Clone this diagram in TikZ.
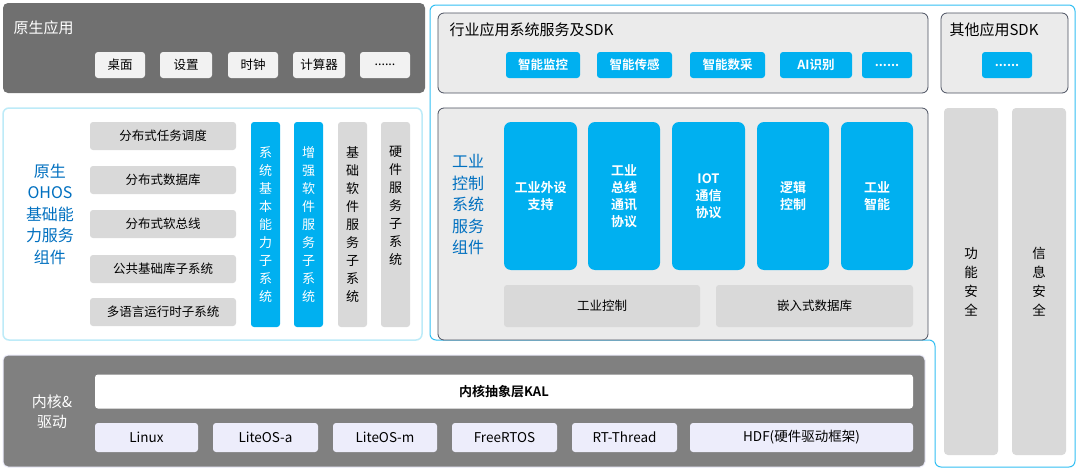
\documentclass[tikz,border=0pt]{standalone}
\usepackage{fontspec}
\setmainfont{Noto Sans CJK SC}
\newfontfamily\cjkb{Noto Sans CJK SC Bold}
\definecolor{cblue}{HTML}{00B0F0}
\definecolor{dgray}{HTML}{707070}
\definecolor{kgray}{HTML}{808080}
\definecolor{lgray}{HTML}{EBEBEB}
\definecolor{mgray}{HTML}{D9D9D9}
\definecolor{txtblue}{HTML}{0070C0}
\definecolor{lav}{HTML}{EDEDFB}
\definecolor{edge}{HTML}{4A5060}
\definecolor{lcyan}{HTML}{BDEBF8}
\definecolor{beige}{HTML}{F2F2F2}
\begin{document}
\begin{tikzpicture}[x=1pt,y=-1pt,
 bx/.style={rounded corners=3pt,draw=none,inner sep=0pt,align=center,font=\fontsize{12.5}{15}\selectfont},
 btn/.style={bx,fill=#1},
 bl/.style={bx,fill=cblue,text=white,font=\cjkb\fontsize{12.5}{15}\selectfont},
 grp/.style={rounded corners=6pt,fill=lgray,draw=edge,line width=0.8pt}]
\useasboundingbox (0,0) rectangle (1080,471);
\fill[white] (0,0) rectangle (1080,471);
% outer cyan outline
\draw[cblue!80,line width=1pt,rounded corners=6pt] (430,5) -- (1075,5) -- (1075,467) -- (935,467) -- (935,340) -- (430,340) -- cycle;
% native apps
\fill[dgray,rounded corners=5pt] (3,3) rectangle (425,93);
\node[anchor=west,text=white,font=\fontsize{15}{18}\selectfont] (t1) at (10,28) {原生应用};
\foreach \a/\b/\t [count=\i] in {95/145/桌面,160/212/设置,228/278/时钟,293/345/计算器,360/410/{......}}
 \node[btn=beige,minimum width=\b-\a,minimum height=26] (na\i) at ({(\a+\b)/2},65) {\t};
% OHOS box
\draw[lcyan,line width=1.5pt,fill=white,rounded corners=6pt] (3,108) rectangle (422,340);
\node[text=txtblue,align=center,font=\fontsize{16}{21.5}\selectfont] (ohos) at (50,214) {原生\\OHOS\\基础能\\力服务\\组件};
\foreach \y/\t [count=\i] in {136/分布式任务调度,180/分布式数据库,224/分布式软总线,269/公共基础库子系统,312/多语言运行时子系统}
 \node[btn=mgray,minimum width=146,minimum height=28] (oi\i) at (163,\y) {\t};
\foreach \x/\c/\tc/\t/\y [count=\i] in {265.5/cblue/white/{系\\统\\基\\本\\能\\力\\子\\系\\统}/146,308.5/cblue/white/{增\\强\\软\\件\\服\\务\\子\\系\\统}/146,352.5/mgray/black/{基\\础\\软\\件\\服\\务\\子\\系\\统}/146,395.5/mgray/black/{硬\\件\\服\\务\\子\\系\\统}/146}{
 \fill[\c,rounded corners=3pt] (\x-14.5,122) rectangle (\x+14.5,327);
 \node[text=\tc,anchor=north,align=center,inner sep=0pt,font=\fontsize{13}{18}\selectfont] (ov\i) at (\x,\y) {\t};}
% industrial apps
\draw[grp] (438,13) rectangle (928,93);
\node[anchor=west,font=\fontsize{15}{18}\selectfont] (t2) at (446,30) {行业应用系统服务及SDK};
\foreach \a/\b/\t [count=\i] in {506/580/智能监控,597/672/智能传感,690/765/智能数采,780/852/AI识别,862/912/{......}}
 \node[bl,minimum width=\b-\a,minimum height=26] (ia\i) at ({(\a+\b)/2},65) {\t};
% other SDK
\draw[grp] (941,13) rectangle (1068,93);
\node[anchor=west,font=\fontsize{15}{18}\selectfont] (t3) at (946,30) {其他应用SDK};
\node[bl,minimum width=50,minimum height=26] (os1) at (1007,65) {......};
% industrial control
\draw[grp] (438,108) rectangle (928,340);
\node[text=txtblue,align=center,font=\fontsize{16}{21.5}\selectfont] (ic) at (468,205) {工业\\控制\\系统\\服务\\组件};
\foreach \a/\b/\t [count=\i] in {504/577/{工业外设\\支持},588/660/{工业\\总线\\通讯\\协议},672/745/{IOT\\通信\\协议},757/829/{逻辑\\控制},841/913/{工业\\智能}}
 \node[bl,rounded corners=7pt,minimum width=\b-\a,minimum height=148,font=\cjkb\fontsize{13}{17}\selectfont] (ib\i) at ({(\a+\b)/2},196) {\t};
\node[btn=mgray,minimum width=196,minimum height=42] (ig1) at (602,306) {工业控制};
\node[btn=mgray,minimum width=197,minimum height=42] (ig2) at (814.5,306) {嵌入式数据库};
% right columns
\fill[mgray,rounded corners=4pt] (944,108) rectangle (998,455);
\fill[mgray,rounded corners=4pt] (1012,108) rectangle (1066,455);
\node[align=center,font=\fontsize{13.5}{19}\selectfont] (s1) at (971,282) {功\\能\\安\\全};
\node[align=center,font=\fontsize{13.5}{19}\selectfont] (s2) at (1039,282) {信\\息\\安\\全};
% kernel
\draw[kgray,fill=kgray,rounded corners=5pt,line width=1pt,draw=lav] (3,355) rectangle (925,467);
\node[text=white,align=center,font=\fontsize{15}{20}\selectfont] (kd) at (52,412) {内核\&\\驱动};
\node[btn=white,minimum width=818,minimum height=34,font=\cjkb\fontsize{13}{15}\selectfont] (kal) at (504,391.5) {内核抽象层KAL};
\foreach \a/\b/\t [count=\i] in {95/198/Linux,213/318/LiteOS-a,333/437/LiteOS-m,452/557/FreeRTOS,572/677/RT-Thread,690/913/HDF(硬件驱动框架)}
 \node[btn=lav,minimum width=\b-\a,minimum height=29,font=\fontsize{13.5}{16}\selectfont] (k\i) at ({(\a+\b)/2},437.5) {\t};
\end{tikzpicture}
\end{document}
